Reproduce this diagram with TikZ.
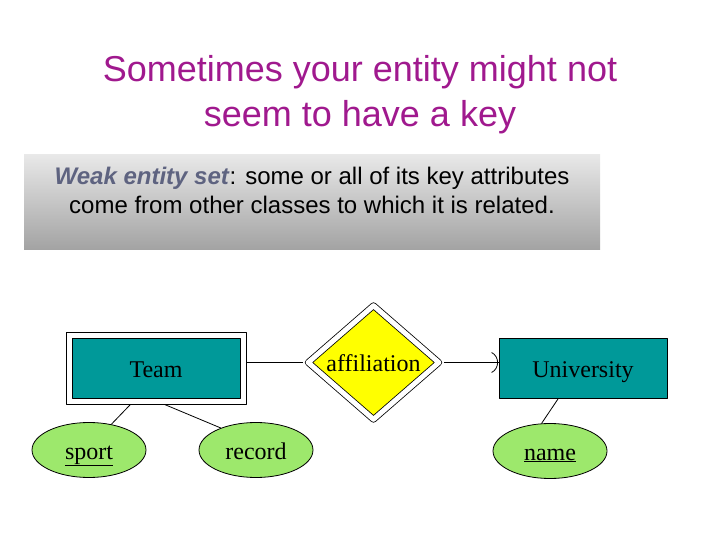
\documentclass[tikz,border=0pt]{standalone}
\usepackage{fontspec}
\setmainfont{Liberation Serif}
\newfontfamily\arialfont{Liberation Sans}
\usetikzlibrary{shapes.geometric}
\definecolor{titlemag}{HTML}{A0198E}
\definecolor{weakblue}{HTML}{5E6380}
\definecolor{entteal}{HTML}{009999}
\definecolor{attgreen}{HTML}{9DE86C}
\definecolor{relyellow}{HTML}{FFFF00}
\begin{document}
\begin{tikzpicture}[x=1pt, y=-1pt, line width=0.8pt, line join=round,
	er/.style={font=\fontsize{24}{28}\selectfont, inner sep=0pt, text height=20pt, text depth=2pt},
	entity/.style={er, draw, fill=entteal, minimum width=168, minimum height=60},
	weakframe/.style={draw, fill=white, minimum width=180, minimum height=72},
	weakrel/.style={er, diamond, aspect=1.15, draw, double=white, double distance=5pt, fill=relyellow, minimum width=131, minimum height=114},
	attrib/.style={er, ellipse, draw, fill=attgreen, minimum width=114, minimum height=55}]
	\useasboundingbox (0,0) rectangle (720,540);
	\node[font=\arialfont\fontsize{36}{45}\selectfont, text=titlemag, align=center] (title) at (360,95) {Sometimes your entity might not\\seem to have a key};
	\node[shading=axis, top color=black!9, bottom color=black!36, minimum width=576, minimum height=94, inner sep=0pt] (defbox) at (312,202) {};
	\node[font=\arialfont\fontsize{24}{29}\selectfont, align=center] (deftext) at (312,190) {\textcolor{weakblue}{\textbf{\textit{Weak entity set}}}: some or all of its key attributes\\come from other classes to which it is related.};
	\node[weakframe] (teamframe) at (156,368) {};
	\node[entity] (team) at (teamframe) {Team};
	\node[weakrel] (aff) at (373.5,362.5) {affiliation};
	\node[entity] (uni) at (583,368) {University};
	\node[attrib] (sport) at (89,450) {\underline{sport}};
	\node[attrib] (record) at (256,450) {record};
	\node[attrib] (name) at (550,451) {\underline{name}};
	\coordinate (barb) at (aff.east -| uni.west);
	\draw[shorten >=4.5pt] (teamframe.east |- aff.west) -- (aff.west);
	\draw[shorten <=4.5pt] (aff.east) -- (barb);
	\draw ([shift={(-7,-10)}]barb) .. controls ([shift={(1,-6)}]barb) and ([shift={(1,6)}]barb) .. ([shift={(-7,10)}]barb);
	\draw (teamframe.-125) -- (sport.49);
	\draw (teamframe.-77) -- (record.148);
	\draw (uni.-129) -- (name.107);
\end{tikzpicture}
\end{document}
